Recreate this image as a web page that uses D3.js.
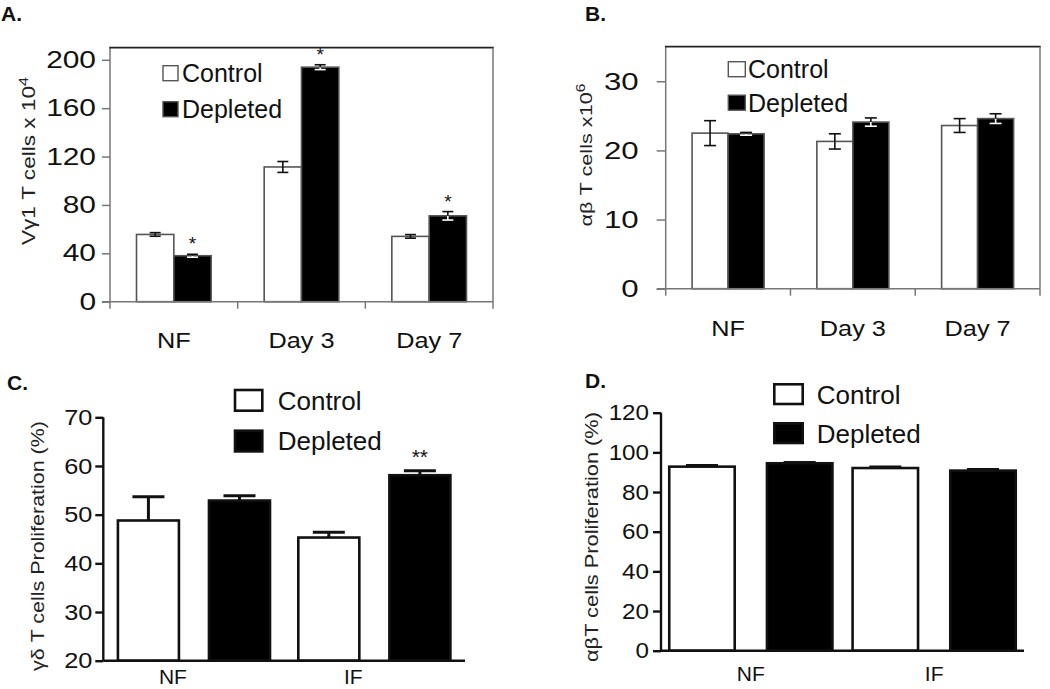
<!DOCTYPE html>
<html>
<head>
<meta charset="utf-8">
<script src="https://cdn.jsdelivr.net/npm/d3@7/dist/d3.min.js"></script>
<style>
  html, body { margin: 0; padding: 0; background: #fff; }
  svg { display: block; font-family: "Liberation Sans", Arial, Helvetica, sans-serif; }
</style>
</head>
<body>
<svg id="chart" width="1050" height="689"></svg>
<script>
// ---------- DATA ----------
const series = ["Control", "Depleted"];

const catsAB = ["NF", "Day 3", "Day 7"];
const aControl = [55.6, 111.4, 54.0];
const aControlErr = [1.5, 4.5, 1.5];
const aDepleted = [38.0, 193.9, 71.0];
const aDepletedErr = [1.2, 2.0, 3.5];
const aSigDepleted = ["*", "*", "*"];
const aTicks = [0, 40, 80, 120, 160, 200];

const bControl = [22.5, 21.3, 23.6];
const bControlErr = [1.8, 1.1, 1.0];
const bDepleted = [22.4, 24.1, 24.6];
const bDepletedErr = [0.2, 0.6, 0.7];
const bTicks = [0, 10, 20, 30];

const catsCD = ["NF", "IF"];
const cControl = [48.8, 45.3];
const cControlErr = [4.9, 1.1];
const cDepleted = [52.9, 58.1];
const cDepletedErr = [1.0, 0.9];
const cSigDepleted = ["", "**"];
const cTicks = [20, 30, 40, 50, 60, 70];

const dControl = [92.8, 92.1];
const dControlErr = [0.6, 0.5];
const dDepleted = [94.5, 90.8];
const dDepletedErr = [0.4, 0.5];
const dTicks = [0, 20, 40, 60, 80, 100, 120];

// ---------- DRAW ----------
const svg = d3.select("#chart");

// Arial / Liberation Sans advance widths (em)
const CW = {" ": .278, "N": .722, "F": .611, "D": .722, "a": .556, "y": .5, "I": .278};
function textW(str, fs) {
  let w = 0;
  for (const ch of String(str)) w += (CW[ch] !== undefined ? CW[ch] : .556);
  return w * fs;
}

function panel(cfg) {
  const g = svg.append("g");
  const x0 = d3.scaleBand().domain(cfg.cats).range([cfg.left, cfg.right])
    .paddingInner(cfg.pi).paddingOuter(cfg.po);
  const x1 = d3.scaleBand().domain(series).range([0, x0.bandwidth()])
    .paddingInner(cfg.ipi).paddingOuter(cfg.ipo);
  const y = d3.scaleLinear().domain(cfg.domain).range([cfg.bottom, cfg.top]);

  const rows = [];
  cfg.cats.forEach((c, i) => {
    series.forEach((s, j) => {
      rows.push({cat: c, s: s, v: cfg.values[j][i], e: cfg.errs[j][i],
                 sig: cfg.sig && cfg.sig[j] ? cfg.sig[j][i] : ""});
    });
  });

  // bars
  g.selectAll("rect.bar").data(rows).join("rect")
    .attr("x", d => x0(d.cat) + x1(d.s))
    .attr("y", d => y(d.v))
    .attr("width", x1.bandwidth())
    .attr("height", d => y(cfg.domain[0]) - y(d.v))
    .attr("fill", d => d.s === "Control" ? "#fff" : "#000")
    .attr("stroke", cfg.barStroke)
    .attr("stroke-width", cfg.barSW);

  // error bars
  const cx = d => x0(d.cat) + x1(d.s) + x1.bandwidth() / 2;
  if (!cfg.upOnly) {
    g.selectAll("line.errL").data(rows).join("line")
      .attr("x1", cx).attr("x2", cx)
      .attr("y1", d => y(d.v)).attr("y2", d => y(d.v - d.e))
      .attr("stroke", d => d.s === "Control" ? "#111" : "#fff")
      .attr("stroke-width", cfg.errSW);
    g.selectAll("line.capB").data(rows).join("line")
      .attr("x1", d => cx(d) - cfg.cap / 2).attr("x2", d => cx(d) + cfg.cap / 2)
      .attr("y1", d => y(d.v - d.e)).attr("y2", d => y(d.v - d.e))
      .attr("stroke", d => d.s === "Control" ? "#111" : "#fff").attr("stroke-width", cfg.errSW);
  }
  g.selectAll("line.errU").data(rows).join("line")
    .attr("x1", cx).attr("x2", cx)
    .attr("y1", d => y(d.v)).attr("y2", d => y(d.v + d.e))
    .attr("stroke", "#111").attr("stroke-width", cfg.errSW);
  g.selectAll("line.capT").data(rows).join("line")
    .attr("x1", d => cx(d) - cfg.cap / 2).attr("x2", d => cx(d) + cfg.cap / 2)
    .attr("y1", d => y(d.v + d.e)).attr("y2", d => y(d.v + d.e))
    .attr("stroke", "#111").attr("stroke-width", cfg.errSW);

  // significance
  g.selectAll("text.sig").data(rows.filter(d => d.sig)).join("text")
    .attr("x", cx).attr("y", d => y(d.v + d.e) - cfg.sigOff)
    .attr("text-anchor", "middle").attr("font-size", cfg.sigFS).attr("fill", "#111")
    .text(d => d.sig);

  // y axis (lines from d3 axis, labels drawn separately so they can be widened)
  const yAxis = d3.axisLeft(y).tickValues(cfg.ticks).tickSize(cfg.tickLen).tickFormat("");
  const ya = g.append("g").attr("transform", `translate(${cfg.left},0)`).call(yAxis);
  ya.select(".domain").attr("stroke", cfg.axisColor).attr("stroke-width", cfg.axisSW)
    .attr("d", `M0,${cfg.top}V${cfg.bottom}`);
  ya.selectAll(".tick line").attr("stroke", cfg.axisColor).attr("stroke-width", cfg.axisSW);
  const tx = cfg.left - cfg.tickLen - cfg.tickPad;
  g.selectAll("text.tl").data(cfg.ticks).join("text")
    .attr("transform", d => `translate(${tx},${y(d)}) scale(${cfg.tickStretch},1)`)
    .attr("dy", "0.35em").attr("text-anchor", "end")
    .attr("font-size", cfg.tickFS).attr("fill", "#111").text(d => d);

  // x axis line
  g.append("line").attr("x1", cfg.left - (cfg.box ? cfg.tickLen : 0)).attr("x2", cfg.xAxisRight)
    .attr("y1", cfg.bottom).attr("y2", cfg.bottom)
    .attr("stroke", cfg.axisColor).attr("stroke-width", cfg.axisSW);
  if (cfg.box) {
    const bounds = cfg.cats.map(c => x0(c) - x0.step() * x0.paddingInner() / 2).concat([cfg.right]);
    g.selectAll("line.xt").data(bounds).join("line")
      .attr("x1", d => d).attr("x2", d => d)
      .attr("y1", cfg.bottom).attr("y2", cfg.bottom + 7)
      .attr("stroke", cfg.axisColor).attr("stroke-width", cfg.axisSW);
    g.append("line").attr("x1", cfg.left - 0.75).attr("x2", cfg.right + 0.75)
      .attr("y1", cfg.boxTop).attr("y2", cfg.boxTop).attr("stroke", "#222").attr("stroke-width", 1.8);
    g.append("line").attr("x1", cfg.right).attr("x2", cfg.right)
      .attr("y1", cfg.boxTop).attr("y2", cfg.bottom).attr("stroke", cfg.axisColor).attr("stroke-width", cfg.axisSW);
  }

  // x labels
  g.selectAll("text.xl").data(cfg.cats).join("text")
    .attr("transform", c => `translate(${x0(c) + x0.bandwidth() / 2 + cfg.xlDx},${cfg.xlY}) scale(${cfg.xlStretch},1)`)
    .attr("text-anchor", "middle")
    .attr("font-size", cfg.xlFS).attr("fill", "#111").text(c => c);

  // y label
  const yl = g.append("text")
    .attr("transform", `translate(${cfg.ylX},${cfg.ylY}) rotate(-90)`)
    .attr("text-anchor", "middle").attr("font-size", cfg.ylFS).attr("fill", "#222")
    .attr("textLength", cfg.ylLen).attr("lengthAdjust", "spacingAndGlyphs");
  cfg.ylParts.forEach(p => {
    const t = yl.append("tspan").text(p.t);
    if (p.sup) t.attr("baseline-shift", "super").attr("font-size", cfg.ylFS * 0.72);
  });

  // legend
  const lg = g.append("g");
  series.forEach((s, j) => {
    lg.append("rect").attr("x", cfg.lgX).attr("y", cfg.lgY + j * cfg.lgStep)
      .attr("width", cfg.lgW).attr("height", cfg.lgH)
      .attr("fill", s === "Control" ? "#fff" : "#000")
      .attr("stroke", cfg.lgStroke).attr("stroke-width", cfg.lgSW);
    lg.append("text").attr("x", cfg.lgTX).attr("y", cfg.lgY + j * cfg.lgStep + cfg.lgH / 2)
      .attr("dy", "0.36em").attr("font-size", cfg.lgFS).attr("fill", "#111").text(s);
  });

  // panel title
  g.append("text").attr("x", cfg.tX).attr("y", cfg.tY).attr("font-size", 21)
    .attr("font-weight", "bold").attr("fill", "#111").text(cfg.title);
}

panel({
  title: "A.", tX: 1, tY: 21,
  cats: catsAB, values: [aControl, aDepleted], errs: [aControlErr, aDepletedErr], sig: [null, aSigDepleted],
  left: 110, right: 493, top: 47.7, bottom: 301.7, boxTop: 47.7, domain: [0, 210], ticks: aTicks,
  pi: 0, po: 0, ipi: 0, ipo: 0.71, box: true, xAxisRight: 493,
  barStroke: "#555", barSW: 1.6, errSW: 1.6, cap: 11, upOnly: false,
  sigOff: 4, sigFS: 19,
  axisColor: "#777", axisSW: 1.5, tickLen: 8, tickPad: 6, tickFS: 23, tickStretch: 1.3,
  xlY: 348, xlFS: 22, xlDx: 0, xlStretch: 1.15,
  ylX: 35, ylY: 161, ylFS: 19, ylLen: 168,
  ylParts: [{t: "V\u03b31 T cells  x 10"}, {t: "4", sup: true}],
  lgX: 163, lgY: 65.7, lgStep: 36, lgW: 15, lgH: 15, lgStroke: "#555", lgSW: 1.4, lgTX: 182, lgFS: 25
});

panel({
  title: "B.", tX: 585, tY: 21,
  cats: catsAB, values: [bControl, bDepleted], errs: [bControlErr, bDepletedErr], sig: null,
  left: 665.7, right: 1040, top: 46.7, bottom: 288.7, boxTop: 46.7, domain: [0, 35], ticks: bTicks,
  pi: 0, po: 0, ipi: 0, ipo: 0.733, box: true, xAxisRight: 1040,
  barStroke: "#555", barSW: 1.6, errSW: 1.6, cap: 12, upOnly: false,
  sigOff: 4, sigFS: 19,
  axisColor: "#777", axisSW: 1.5, tickLen: 9, tickPad: 18, tickFS: 24, tickStretch: 1.3,
  xlY: 336, xlFS: 22, xlDx: 0, xlStretch: 1.15,
  ylX: 592, ylY: 155, ylFS: 17, ylLen: 143,
  ylParts: [{t: "\u03b1\u03b2 T cells x10"}, {t: "6", sup: true}],
  lgX: 728.3, lgY: 61.7, lgStep: 33.5, lgW: 17, lgH: 15, lgStroke: "#555", lgSW: 1.4, lgTX: 748, lgFS: 25
});

panel({
  title: "C.", tX: 7, tY: 390,
  cats: catsCD, values: [cControl, cDepleted], errs: [cControlErr, cDepletedErr], sig: [null, cSigDepleted],
  left: 103.3, right: 465, top: 417.3, bottom: 660.7, domain: [20, 70], ticks: cTicks,
  pi: 0.157, po: 0.081, ipi: 0.33, ipo: 0, box: false, xAxisRight: 465,
  barStroke: "#111", barSW: 2.6, errSW: 3, cap: 32, upOnly: true,
  sigOff: 7, sigFS: 21,
  axisColor: "#111", axisSW: 2.4, tickLen: 8, tickPad: 3, tickFS: 22, tickStretch: 1.15,
  xlY: 684, xlFS: 21, xlDx: -21, xlStretch: 1,
  ylX: 44, ylY: 546, ylFS: 19, ylLen: 250,
  ylParts: [{t: "\u03b3\u03b4 T cells Proliferation (%)"}],
  lgX: 235, lgY: 390, lgStep: 40.7, lgW: 27.3, lgH: 20.7, lgStroke: "#111", lgSW: 2.6, lgTX: 277.7, lgFS: 26
});

panel({
  title: "D.", tX: 585, tY: 388,
  cats: catsCD, values: [dControl, dDepleted], errs: [dControlErr, dDepletedErr], sig: null,
  left: 661, right: 1024, top: 412.7, bottom: 650.7, domain: [0, 120], ticks: dTicks,
  pi: 0.11, po: 0.045, ipi: 0.33, ipo: 0, box: false, xAxisRight: 1024,
  barStroke: "#111", barSW: 2.6, errSW: 3, cap: 32, upOnly: true,
  sigOff: 7, sigFS: 21,
  axisColor: "#111", axisSW: 2.4, tickLen: 8, tickPad: 4, tickFS: 22, tickStretch: 1.1,
  xlY: 681, xlFS: 21, xlDx: 0, xlStretch: 1,
  ylX: 598, ylY: 537, ylFS: 19, ylLen: 250,
  ylParts: [{t: "\u03b1\u03b2T cells Proliferation (%)"}],
  lgX: 774.3, lgY: 384.3, lgStep: 39, lgW: 28.4, lgH: 19.7, lgStroke: "#111", lgSW: 2.6, lgTX: 816.7, lgFS: 26
});
</script>
</body>
</html>
